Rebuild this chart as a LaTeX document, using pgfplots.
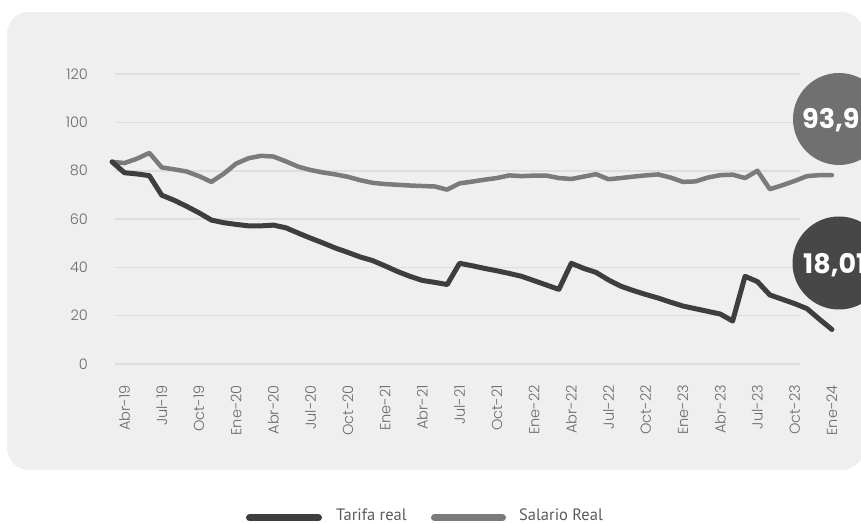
\documentclass[border=0pt]{standalone}
\usepackage{fontspec}
\setmainfont{Poppins}[UprightFont=* Light, BoldFont=* Bold]
\newfontfamily\legendfont{PT Sans}
\usepackage{pgfplots}
\pgfplotsset{compat=1.18}

\definecolor{panel}{HTML}{EFEFEF}
\definecolor{gridc}{HTML}{DEDEDE}
\definecolor{tickc}{HTML}{6B6B6B}
\definecolor{tarifac}{HTML}{3E3E3E}
\definecolor{salarioc}{HTML}{7B7B7B}
\definecolor{circdark}{HTML}{474747}
\definecolor{circlight}{HTML}{707070}
\definecolor{legtext}{HTML}{5A5A5A}

\begin{document}
\begin{tikzpicture}
\useasboundingbox (0pt,0pt) rectangle (861pt,524pt);
% panel
\fill[panel, rounded corners=22pt] (7pt,54pt) rectangle (864pt,512pt);

\begin{axis}[
    at={(112.1pt,160pt)}, anchor=south west,
    scale only axis,
    width=719.8pt, height=289.8pt,
    xmin=0, xmax=58, ymin=0, ymax=120,
    axis line style={draw=none},
    major tick length=0pt,
    xtick={1,4,...,58},
    xticklabels={Abr-19,Jul-19,Oct-19,Ene-20,Abr-20,Jul-20,Oct-20,Ene-21,Abr-21,Jul-21,Oct-21,Ene-22,Abr-22,Jul-22,Oct-22,Ene-23,Abr-23,Jul-23,Oct-23,Ene-24},
    ytick={0,20,...,120},
    tick label style={font=\fontsize{14.5}{15}\selectfont, text=tickc},
    xticklabel style={rotate=90, anchor=east, inner sep=0pt},
    yticklabel style={anchor=east, inner sep=0pt},
    xticklabel shift=21pt,
    yticklabel shift=24pt,
    /pgf/number format/assume math mode=true,
    clip=false,
]
% gridlines stop short of the right end, as in the source
\draw[gridc, line width=1.6pt] (axis cs:0.2,0) -- (axis cs:55.4,0);
\draw[gridc, line width=1.6pt] (axis cs:0.2,20) -- (axis cs:55.4,20);
\draw[gridc, line width=1.6pt] (axis cs:0.2,40) -- (axis cs:55.4,40);
\draw[gridc, line width=1.6pt] (axis cs:0.2,60) -- (axis cs:55.4,60);
\draw[gridc, line width=1.6pt] (axis cs:0.2,80) -- (axis cs:55.4,80);
\draw[gridc, line width=1.6pt] (axis cs:0.2,100) -- (axis cs:55.4,100);
\draw[gridc, line width=1.6pt] (axis cs:0.2,120) -- (axis cs:55.4,120);

% Salario Real (mar-19 = 0 ... ene-24 = 58)
\addplot[salarioc, line width=4.5pt, line join=round, line cap=round] coordinates {
(0,83.7) (1,83.2) (2,85.0) (3,87.4) (4,81.4) (5,80.6) (6,79.7) (7,77.8) (8,75.4) (9,78.8)
(10,83.0) (11,85.2) (12,86.2) (13,85.9) (14,83.9) (15,81.7) (16,80.3) (17,79.3) (18,78.5) (19,77.5)
(20,76.1) (21,75.0) (22,74.5) (23,74.2) (24,73.9) (25,73.7) (26,73.5) (27,72.2) (28,74.8) (29,75.5)
(30,76.3) (31,77.0) (32,78.1) (33,77.8) (34,78.0) (35,78.0) (36,77.0) (37,76.6) (38,77.6) (39,78.6)
(40,76.5) (41,77.0) (42,77.6) (43,78.1) (44,78.5) (45,77.2) (46,75.4) (47,75.6) (48,77.2) (49,78.2)
(50,78.4) (51,77.0) (52,80.0) (53,72.4) (54,74.0) (55,75.8) (56,77.8) (57,78.2) (58,78.2)
};
% Tarifa real
\addplot[tarifac, line width=5pt, line join=round, line cap=round] coordinates {
(0,83.7) (1,79.2) (2,78.7) (3,78.0) (4,69.9) (5,67.8) (6,65.3) (7,62.6) (8,59.6) (9,58.5)
(10,57.8) (11,57.2) (12,57.2) (13,57.5) (14,56.4) (15,54.2) (16,52.1) (17,50.1) (18,48.0) (19,46.2)
(20,44.3) (21,42.8) (22,40.6) (23,38.3) (24,36.3) (25,34.6) (26,33.8) (27,32.9) (28,41.7) (29,40.7)
(30,39.6) (31,38.6) (32,37.5) (33,36.3) (34,34.5) (35,32.7) (36,30.9) (37,41.7) (38,39.6) (39,37.9)
(40,34.8) (41,32.2) (42,30.4) (43,28.8) (44,27.3) (45,25.6) (46,24.0) (47,22.9) (48,21.8) (49,20.7)
(50,17.8) (51,36.3) (52,34.1) (53,28.6) (54,26.8) (55,25.0) (56,22.9) (57,18.5) (58,14.3)
};
\end{axis}

% value badges
\fill[circlight] (839pt,405pt) circle (46pt);
\node[anchor=base west, inner sep=0pt, text=white, font=\bfseries\fontsize{27}{27}\selectfont] at (802pt,395.7pt) {93,9};
\fill[circdark] (839pt,261pt) circle (46.5pt);
\node[anchor=base west, inner sep=0pt, text=white, font=\bfseries\fontsize{27}{27}\selectfont] at (803pt,250.7pt) {18,01};

% legend
\draw[tarifac, line width=7pt, line cap=round] (249.5pt,6pt) -- (318.5pt,6pt);
\node[anchor=base west, inner sep=0pt, text=legtext, font=\legendfont\fontsize{16.5}{17}\selectfont] at (336pt,3pt) {Tarifa real};
\draw[salarioc, line width=7pt, line cap=round] (434.5pt,6pt) -- (502.5pt,6pt);
\node[anchor=base west, inner sep=0pt, text=legtext, font=\legendfont\fontsize{16.5}{17}\selectfont] at (519pt,3pt) {Salario Real};
\end{tikzpicture}
\end{document}
